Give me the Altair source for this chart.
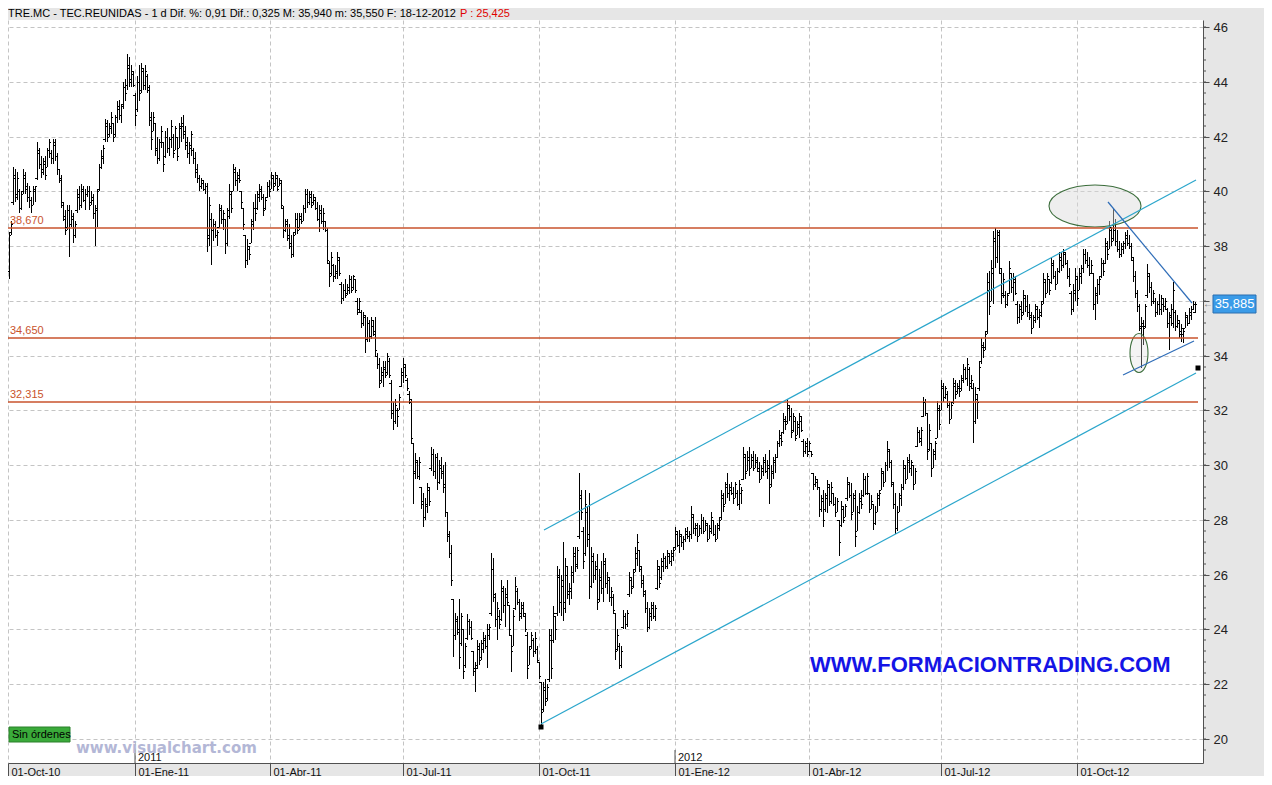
import json
import altair as alt
import pandas as pd
import numpy as np

# ---------------- OHLC daily bars (open, high, low, close) ----------------
q4_2010 = [
(37.1,38.5,36.8,38.4),(38.5,38.9,38.4,38.8),(39.6,40.9,39.5,40.6),(40.5,40.8,39.6,39.8),(39.9,40.7,39.7,40.5),
(40.0,40.1,39.2,39.4),(39.4,40.0,39.3,39.9),(40.0,40.8,39.9,40.6),(40.5,40.7,39.9,40.1),(40.2,40.3,39.6,39.8),
(39.8,40.2,39.4,40.0),(39.7,39.8,39.2,39.5),(39.5,40.2,39.5,40.1),(40.0,40.2,39.6,40.2),(40.5,41.8,40.4,41.5),
(41.4,41.6,40.8,41.0),(41.0,41.3,40.5,40.7),(40.8,41.2,40.6,41.1),(41.0,41.3,40.4,40.6),(40.9,41.6,40.9,41.5),
(41.5,41.9,41.2,41.8),(41.4,41.5,41.0,41.2),(41.2,41.9,41.0,41.8),(41.7,41.9,41.1,41.3),(41.3,41.4,40.6,40.8),
(40.8,40.8,40.3,40.4),(40.5,40.6,39.4,39.6),(39.5,39.6,38.9,39.0),(39.1,39.3,38.4,38.6),(38.7,39.5,38.6,39.3),
(39.3,39.5,37.6,38.8),(38.8,39.3,38.7,39.1),(39.0,39.2,38.1,38.4),(38.4,38.9,38.3,38.8),(39.3,40.1,39.2,39.9),
(39.8,40.2,39.3,39.5),(39.5,40.25,39.4,40.1),(40.0,40.2,39.6,39.7),(39.7,40.1,39.3,39.9),(39.9,40.2,39.8,40.0),
(40.0,40.2,39.3,39.5),(39.6,40.0,39.5,39.8),(39.7,39.9,39.0,39.2),(39.2,39.5,38.0,39.4),(39.3,40.1,38.7,40.0),
(40.1,41.0,40.0,40.9),(40.9,41.5,40.8,41.3),(41.2,41.7,41.0,41.6),(41.9,42.65,41.8,42.5),(42.4,42.6,41.8,42.0),
(42.1,42.5,42.0,42.4),(42.3,42.9,42.1,42.7),(42.5,42.5,41.8,42.0),(42.1,42.8,42.0,42.7),(42.7,43.3,42.5,43.1),
(43.0,43.35,42.6,42.8),(42.8,43.2,42.5,43.1),(43.2,44.0,43.0,43.8),(43.8,44.1,43.3,43.6),(43.9,45.0,43.7,44.6),
(44.5,44.9,43.8,44.0),(44.1,44.6,43.8,44.4),(44.3,44.4,43.8,43.9),(43.5,43.6,42.4,42.8),(43.0,44.2,42.9,44.0),
(44.0,44.6,43.3,43.6),
]
q1_2011 = [
(43.7,44.7,43.6,44.5),(44.4,44.5,43.7,43.9),(43.9,44.6,43.7,44.4),(44.2,44.3,43.6,43.7),(43.8,43.9,42.4,42.6),
(42.7,42.9,41.5,41.9),(42.2,42.9,42.2,42.7),(42.5,42.5,41.3,41.5),(41.6,42.0,41.0,41.2),(41.2,41.9,41.1,41.8),
(41.8,42.4,41.6,42.2),(41.8,41.8,40.7,41.0),(41.3,42.2,41.2,42.0),(42.0,42.3,41.4,41.6),(41.6,42.0,41.3,41.9),
(41.9,42.6,41.6,42.4),(42.0,42.1,41.2,41.4),(41.5,42.4,41.5,42.3),(42.0,42.0,41.1,41.3),(41.6,42.5,41.6,42.4),
(42.3,42.7,41.8,42.5),(42.4,42.8,41.9,42.1),(42.2,42.4,41.5,41.7),(41.8,42.0,41.2,41.4),(41.4,41.8,41.0,41.7),
(41.6,42.2,41.3,42.1),(41.5,41.6,41.0,41.2),(41.2,41.45,40.5,40.7),(40.8,41.0,40.3,40.5),(40.5,40.6,40.0,40.2),
(40.2,40.5,40.1,40.4),(40.3,40.4,40.0,40.1),(40.1,40.3,39.9,40.2),(40.2,40.3,37.8,38.4),(38.3,39.8,38.0,39.5),
(39.0,39.2,37.3,38.6),(38.6,39.0,38.2,38.8),(38.8,38.9,38.3,38.4),(38.4,38.6,38.0,38.5),(38.7,39.55,38.65,39.4),
(39.3,39.5,38.8,39.0),(39.0,39.3,38.6,39.2),(39.0,39.0,37.7,38.1),(38.1,39.4,38.0,39.3),(39.1,40.25,39.0,40.0),
(39.9,40.0,39.2,39.4),(40.0,41.0,40.0,40.8),(40.7,40.9,40.2,40.4),(40.4,40.7,40.0,40.6),(40.5,40.8,40.3,40.4),
(40.0,40.0,39.4,39.6),(39.4,39.4,38.6,38.8),(38.4,38.4,37.2,37.5),(37.5,38.25,37.3,38.0),(37.9,38.0,37.5,37.7),
(38.1,39.0,38.1,38.9),(38.8,39.6,38.6,39.4),(39.4,39.9,38.9,39.2),(39.4,40.0,39.3,39.9),(39.8,40.25,39.6,40.1),
(40.0,40.2,39.7,39.8),(39.8,39.9,39.1,39.3),(39.4,39.8,39.3,39.7),(39.8,40.35,39.75,40.2),
]
q2_2011 = [
(40.2,40.4,39.8,40.0),(40.1,40.7,40.1,40.6),(40.5,40.6,40.0,40.2),(40.3,40.7,40.2,40.6),(40.5,40.6,40.0,40.1),
(40.2,40.5,40.2,40.4),(40.3,40.4,39.4,39.5),(39.4,39.45,38.3,38.6),(38.6,39.0,38.5,38.9),(38.8,39.0,38.2,38.3),
(38.4,38.8,37.9,38.1),(38.0,38.4,37.55,37.7),(37.7,38.5,37.6,38.4),(38.5,39.2,38.4,39.0),(39.0,39.2,38.45,38.6),
(38.7,39.2,38.6,39.1),(39.0,39.2,38.8,38.9),(38.9,39.5,38.9,39.4),(39.4,40.1,39.2,39.9),(39.9,40.1,39.4,39.6),
(39.6,40.0,39.5,39.9),(39.8,40.0,39.4,39.5),(39.6,39.9,39.5,39.8),(39.7,39.8,39.3,39.4),(39.4,39.6,38.9,39.0),
(39.0,39.5,38.5,39.3),(39.2,39.5,38.8,38.9),(38.9,39.4,38.6,39.2),(38.9,38.9,38.5,38.6),(38.6,38.65,37.35,37.5),
(37.4,37.45,36.5,36.9),(37.0,37.8,36.9,37.6),(37.3,37.35,36.7,36.9),(36.9,37.3,36.8,37.1),(37.0,37.8,36.8,37.6),
(37.5,37.6,36.9,37.0),(36.6,36.7,35.9,36.1),(36.1,36.6,36.0,36.4),(36.4,36.8,36.1,36.2),(36.3,36.6,36.2,36.5),
(36.4,36.95,36.25,36.8),(36.8,36.9,36.3,36.4),(36.5,36.95,36.4,36.9),(36.8,36.8,36.3,36.4),(36.0,36.1,35.5,35.6),
(35.7,36.1,35.6,36.0),(35.6,35.65,35.0,35.2),(35.2,35.6,35.1,35.5),(35.4,35.5,34.1,34.6),(34.6,35.4,34.5,35.2),
(35.2,35.3,34.5,34.7),(34.7,35.4,34.6,35.3),(35.1,35.3,34.7,34.8),(34.9,35.4,34.0,34.2),(34.0,34.1,33.5,33.7),
(33.7,33.9,32.8,33.0),(33.1,33.6,33.0,33.4),(33.3,33.8,32.85,33.6),(33.5,33.8,33.2,33.3),(33.4,34.1,33.3,34.0),
(33.8,33.9,33.2,33.3),(33.0,33.1,31.7,31.9),(32.0,32.3,31.3,31.6),(31.6,32.4,31.5,32.2),(32.0,32.1,31.4,31.8),
]
q3_2011 = [
(32.0,32.6,32.0,32.5),(32.9,33.55,32.85,33.4),(33.3,33.9,33.0,33.7),(33.6,33.7,33.2,33.3),(33.1,33.2,32.7,32.8),
(32.6,32.7,32.25,32.4),(32.3,32.4,30.8,31.0),(30.8,30.8,28.6,29.8),(29.7,30.45,29.5,30.2),(30.1,30.2,29.5,29.6),
(29.6,30.3,29.45,30.1),(29.2,29.2,28.4,28.6),(28.7,29.0,27.75,28.1),(28.1,28.8,28.0,28.6),(28.5,29.35,28.25,29.2),
(29.1,29.2,28.5,28.7),(29.9,30.65,29.8,30.4),(30.4,30.6,29.6,29.8),(29.8,30.4,29.5,30.3),(30.3,30.45,29.1,29.4),
(29.4,30.2,29.3,30.0),(29.9,30.3,29.5,29.7),(29.8,30.0,29.0,29.2),(29.3,30.1,28.1,28.3),(28.3,28.3,27.2,27.5),
(27.4,27.6,26.6,26.8),(26.8,27.1,25.6,25.8),(25.1,25.1,23.0,23.8),(23.8,24.6,23.6,24.4),(24.3,24.5,23.8,23.9),
(24.0,25.1,22.55,23.0),(23.5,24.6,23.4,24.5),(24.0,24.0,22.2,22.5),(22.7,23.5,22.6,23.4),(23.7,24.55,23.6,24.3),
(24.3,24.4,23.8,24.1),(24.1,24.3,23.6,23.7),(23.2,23.2,22.3,22.5),(22.6,22.8,21.7,22.7),(22.6,23.6,22.55,23.4),
(23.3,23.5,22.7,22.9),(23.0,23.6,22.9,23.5),(23.3,23.9,23.15,23.7),(23.6,23.8,23.3,23.4),(23.4,24.2,22.6,24.0),
(23.8,24.2,23.6,24.1),(24.6,26.8,24.5,26.2),(26.2,26.6,25.0,25.3),(25.2,25.35,24.1,24.4),(24.4,25.0,23.6,24.8),
(24.5,24.7,24.0,24.2),(24.4,25.8,24.3,25.5),(25.4,25.6,24.6,24.9),(24.9,25.5,24.1,25.3),(25.2,25.8,24.9,25.0),
(24.9,24.9,23.75,24.0),(23.8,23.8,22.45,23.2),(23.4,24.7,23.4,24.5),(24.8,25.9,24.7,25.6),(25.4,25.5,24.9,25.0),
(25.0,25.1,24.3,24.6),(24.5,25.0,24.4,24.9),(24.8,25.0,24.5,24.6),(24.5,24.6,23.9,24.0),(23.8,23.9,22.2,22.6),
(22.7,23.4,22.7,23.3),
]
q4_2011 = [
(23.4,23.9,23.3,23.8),(23.6,23.7,23.0,23.2),(23.2,23.9,23.1,23.7),(23.3,23.4,22.8,22.9),(22.8,22.8,22.2,22.3),
(22.1,22.1,20.45,21.0),(21.1,22.1,21.0,21.9),(21.8,22.2,21.2,21.4),(21.5,22.0,21.4,21.9),(22.2,24.0,22.1,23.8),
(23.6,24.0,22.2,22.6),(23.6,24.85,23.5,24.6),(24.5,24.5,23.6,24.0),(24.6,26.3,24.5,26.0),(25.9,26.2,24.6,25.0),
(25.0,26.0,24.5,25.8),(25.6,27.2,24.3,24.8),(25.0,26.6,24.6,26.3),(26.0,26.3,25.1,25.4),(25.3,25.7,24.9,25.5),
(25.4,26.3,25.1,26.1),(26.0,27.0,25.7,26.8),(26.7,27.0,26.1,26.3),(26.4,27.0,26.2,26.9),(27.4,29.7,27.3,28.9),
(28.8,29.1,28.0,28.3),(27.6,27.75,26.2,26.5),(26.8,29.1,26.7,28.6),(28.3,28.5,27.0,27.3),(27.5,29.0,25.1,25.6),
(25.6,27.0,25.5,26.7),(26.5,26.8,25.7,26.0),(26.0,26.5,25.8,26.3),(26.2,26.75,24.7,25.0),(25.1,26.2,25.0,25.9),
(25.8,26.5,25.3,25.5),(25.5,26.8,25.0,26.5),(26.4,26.6,25.5,25.7),(25.7,26.1,25.3,25.9),(25.8,25.9,25.0,25.2),
(25.2,25.55,24.85,25.4),(25.2,25.3,24.6,24.7),(24.6,24.6,22.9,23.2),(23.3,24.0,23.2,23.8),(23.4,23.5,22.55,22.7),
(22.7,23.4,22.6,23.2),(24.1,24.7,24.0,24.5),(24.5,24.6,24.0,24.2),(24.2,24.7,24.1,24.6),(25.3,26.1,25.2,25.9),
(25.8,25.9,25.3,25.5),(25.6,26.2,25.5,26.1),(26.2,27.0,26.1,26.8),(26.6,27.5,26.3,27.2),(26.9,26.9,26.1,26.3),
(26.2,26.3,25.5,25.7),(25.8,26.0,25.2,25.4),(25.3,25.45,24.6,24.8),(24.8,25.0,23.9,24.1),(24.1,24.8,24.0,24.6),
(24.5,25.0,24.3,24.9),(24.8,25.0,24.4,24.5),(24.5,24.9,24.3,24.8),(25.5,26.55,25.45,26.3),(26.2,26.3,25.5,25.7),
]
q1_2012 = [
(25.9,26.6,25.8,26.5),(26.3,26.8,26.1,26.6),(26.6,26.7,26.2,26.3),(26.3,26.9,26.2,26.8),(26.7,26.8,26.4,26.5),
(26.5,26.9,26.3,26.8),(26.7,27.0,26.5,26.9),(27.0,27.75,26.9,27.6),(27.5,27.6,27.0,27.1),(27.1,27.65,26.8,27.5),
(27.4,27.5,27.0,27.2),(27.2,27.4,26.9,27.3),(27.3,27.7,27.2,27.6),(27.5,27.75,27.3,27.4),(27.4,27.6,27.2,27.5),
(27.5,28.5,27.3,28.2),(28.1,28.2,27.5,27.7),(27.7,27.9,27.4,27.8),(27.7,27.9,27.2,27.4),(27.4,27.8,27.4,27.7),
(27.7,28.2,27.5,28.0),(28.0,28.1,27.5,27.6),(27.6,28.0,27.6,27.9),(27.8,27.9,27.2,27.3),(27.3,27.8,27.3,27.7),
(27.6,28.3,27.5,28.1),(28.0,28.0,27.4,27.5),(27.5,27.8,27.2,27.3),(27.3,27.9,27.3,27.8),(27.7,28.1,27.6,28.0),
(28.1,29.1,28.0,28.9),(28.8,29.0,28.3,28.5),(28.6,29.4,28.6,29.3),(29.2,29.7,28.8,29.0),(29.0,29.3,28.7,29.2),
(29.1,29.4,28.9,29.0),(29.0,29.2,28.6,28.8),(28.8,29.4,28.8,29.3),(29.0,29.1,28.5,28.6),(28.6,29.45,28.35,29.3),
(29.0,29.2,28.6,29.1),(29.5,30.65,29.45,30.4),(30.3,30.4,29.5,29.7),(29.8,30.5,29.8,30.3),(30.2,30.65,29.6,29.9),
(29.9,30.4,29.9,30.3),(30.2,30.5,29.8,29.9),(29.9,30.4,29.9,30.2),(30.1,30.3,29.8,29.9),(29.8,30.1,29.35,29.5),
(29.5,30.0,29.5,29.9),(29.8,30.3,29.6,30.2),(30.1,30.4,29.7,29.8),(29.8,30.2,29.5,30.0),(29.9,30.55,28.6,29.2),
(29.3,30.0,29.2,29.8),(29.7,30.3,29.5,30.2),(30.1,30.4,29.7,30.3),(30.3,30.9,30.25,30.8),(30.8,31.3,30.65,31.1),
(31.0,31.2,30.7,30.9),(31.2,31.9,31.15,31.7),(31.6,31.8,31.3,31.5),(31.6,32.4,31.5,32.2),(32.1,32.2,31.6,31.8),
]
q2_2012 = [
(31.8,32.1,31.0,31.2),(31.3,31.9,31.2,31.8),(31.6,31.75,30.9,31.0),(31.1,31.6,31.1,31.5),(31.4,31.9,31.0,31.8),
(31.6,31.8,31.2,31.3),(30.9,30.95,30.3,30.5),(30.5,30.9,30.4,30.8),(30.7,31.0,30.3,30.4),(30.5,30.9,30.5,30.8),
(30.5,30.5,30.3,30.4),(29.7,29.7,29.1,29.3),(29.3,29.6,29.2,29.5),(29.4,29.5,29.1,29.2),(29.2,29.2,28.1,28.4),
(28.4,28.9,28.3,28.8),(28.7,29.1,27.75,28.0),(28.4,29.0,28.3,28.9),(28.8,29.45,28.25,29.3),(29.2,29.3,28.5,28.7),
(28.7,29.4,28.6,29.2),(29.0,29.0,28.5,28.6),(28.6,28.85,28.1,28.3),(28.3,28.8,28.3,28.7),(28.0,28.0,26.7,27.2),
(27.8,28.7,27.75,28.5),(28.4,28.5,27.9,28.0),(28.1,28.6,28.1,28.5),(28.8,29.55,28.7,29.4),(29.3,29.4,28.8,28.9),
(28.9,29.35,28.0,28.2),(28.3,29.0,28.3,28.9),(28.8,29.1,27.0,27.4),(27.6,28.5,27.6,28.3),(28.3,29.0,28.2,28.8),
(28.7,29.1,28.4,28.6),(28.9,29.7,28.85,29.5),(29.5,29.6,28.9,29.0),(29.0,29.7,28.9,29.6),(29.0,29.0,28.25,28.4),
(28.4,28.9,28.4,28.7),(28.6,28.6,27.65,27.9),(27.9,28.5,27.8,28.3),(28.3,29.0,28.3,28.9),(28.8,29.1,28.5,29.0),
(29.1,29.9,29.1,29.8),(29.7,29.8,29.2,29.4),(29.4,30.1,29.4,30.0),(30.0,30.9,29.8,30.6),(30.5,30.6,29.9,30.1),
(30.1,30.2,29.2,29.4),(29.3,29.4,28.4,28.6),(28.6,29.0,27.5,27.7),(27.7,28.5,27.6,28.3),(28.3,29.0,28.3,28.9),
(28.8,29.3,28.5,29.2),(29.2,30.2,29.1,30.0),(29.9,30.0,29.3,29.5),(29.5,30.3,29.5,30.2),(30.1,30.4,29.7,29.9),
(29.9,30.2,29.6,30.1),(30.0,30.0,29.1,29.3),(29.3,29.9,29.3,29.8),(30.7,31.4,30.65,31.2),(31.2,31.3,30.8,31.0),
]
q3_2012 = [
(30.9,31.4,30.7,31.3),(31.8,32.5,31.75,32.3),(32.3,32.4,31.8,31.9),(31.9,31.9,30.2,30.5),(30.6,31.5,30.5,31.3),
(30.8,30.8,29.55,29.9),(29.9,30.6,29.9,30.5),(30.4,30.9,30.2,30.8),(31.0,32.35,31.0,32.1),(32.0,32.2,31.3,31.5),
(32.0,33.1,32.0,32.9),(32.8,33.0,32.3,32.5),(32.5,32.9,32.4,32.8),(32.6,32.7,32.1,32.2),(32.2,32.35,31.5,31.7),
(31.7,32.3,31.7,32.2),(32.3,33.2,32.25,33.0),(32.9,33.1,32.4,32.6),(32.7,33.0,32.6,32.9),(32.8,33.1,32.5,32.7),
(32.8,33.3,32.7,33.2),(33.1,33.7,33.0,33.5),(33.5,33.6,33.1,33.2),(33.2,33.9,32.9,33.7),(33.5,33.6,32.7,32.9),
(33.0,33.3,32.8,33.1),(32.8,33.0,30.8,31.6),(31.6,32.85,31.5,32.6),(32.4,32.6,31.7,32.3),(32.8,33.8,32.7,33.6),
(33.8,34.65,33.7,34.4),(34.3,34.5,33.9,34.2),(34.3,34.9,34.2,34.8),(34.9,37.0,34.8,36.7),(36.4,37.1,35.5,35.8),
(36.0,37.5,36.0,37.2),(37.0,38.55,35.9,38.3),(38.2,38.65,37.2,37.6),(37.6,38.6,37.4,38.4),(38.5,38.6,37.0,37.2),
(37.0,37.2,35.9,36.2),(36.3,37.0,36.1,36.8),(36.2,36.35,35.75,35.9),(35.9,36.3,35.8,36.2),(36.3,37.45,36.25,37.2),
(37.0,37.0,36.3,36.5),(36.5,37.0,36.0,36.8),(36.7,36.9,36.2,36.3),(35.9,36.0,35.15,35.4),(35.4,35.9,35.2,35.8),
(35.7,36.0,35.3,35.5),(35.6,36.4,35.5,36.2),(36.1,36.2,35.6,35.8),(35.8,36.2,35.4,35.6),(35.6,35.9,35.3,35.5),
(35.4,35.6,34.8,35.0),(35.0,35.5,35.0,35.4),(35.3,35.9,35.2,35.8),(35.7,35.8,35.3,35.4),(35.4,35.7,35.0,35.6),
(35.5,36.0,35.4,35.9),(36.0,37.0,35.9,36.8),(36.7,36.8,36.1,36.3),(36.3,37.0,36.3,36.9),(36.8,36.8,36.2,36.4),
]
q4_2012 = [
(36.7,37.55,36.6,37.4),(37.3,37.5,36.8,36.9),(36.9,37.1,36.4,36.6),(36.6,37.2,36.6,37.1),(37.1,37.8,37.0,37.6),
(37.5,37.8,37.1,37.3),(37.3,37.9,37.2,37.8),(37.7,37.8,37.3,37.4),(37.4,37.5,36.8,36.9),(36.9,37.2,36.5,36.6),
(36.3,36.35,35.5,35.7),(35.7,36.6,35.6,36.4),(36.3,37.2,36.0,36.9),(36.8,36.9,35.8,36.1),(36.4,37.2,36.4,37.0),
(36.9,37.3,36.6,37.2),(37.2,37.9,37.0,37.7),(37.7,37.9,37.35,37.5),(37.5,37.8,37.2,37.3),(37.3,37.6,36.9,37.0),
(37.0,37.5,37.0,37.3),(37.0,37.0,35.65,35.9),(35.9,36.5,35.3,36.3),(36.2,36.8,35.9,36.6),(36.6,36.9,36.2,36.8),
(36.9,37.55,36.85,37.4),(37.4,37.5,36.9,37.1),(37.4,38.3,37.35,38.1),(38.0,38.2,37.5,37.7),(37.9,38.9,37.9,38.7),
(38.6,38.7,38.0,38.2),(38.3,39.35,38.2,38.6),(38.6,39.0,38.0,38.2),(38.2,38.6,37.8,37.9),(37.9,38.2,37.55,37.7),
(37.7,38.1,37.6,38.0),(37.9,38.2,37.7,38.1),(38.1,38.5,37.9,38.4),(38.3,38.6,38.0,38.1),(38.1,38.4,37.9,38.0),
(38.0,38.1,37.5,37.6),(37.5,37.6,36.7,36.9),(36.9,37.1,36.1,36.3),(36.3,36.4,35.6,35.8),(35.8,35.9,34.9,35.1),
(35.0,35.4,33.55,35.2),(35.1,35.3,34.4,35.0),(35.1,35.9,35.0,35.8),(36.2,37.35,36.1,37.0),(36.9,37.0,36.3,36.5),
(36.5,36.7,35.8,36.0),(36.0,36.4,35.9,36.3),(36.0,36.1,35.4,35.6),(35.6,36.0,35.5,35.9),(35.9,36.25,35.5,35.7),
(35.7,36.2,35.5,36.1),(35.9,36.1,35.6,35.8),(35.8,36.1,35.7,36.0),(35.7,35.75,35.0,35.2),(35.2,35.6,34.2,35.5),
(35.4,35.9,35.1,35.7),(35.2,36.7,35.0,36.4),(35.6,35.65,34.9,35.1),(35.1,35.5,35.0,35.3),(35.2,35.3,34.65,34.8),
(34.9,35.15,34.5,35.0),(34.8,35.0,34.45,34.9),(35.0,35.6,35.0,35.5),(35.4,35.5,35.1,35.2),(35.2,35.75,35.15,35.6),
(35.5,35.8,35.3,35.7),(35.7,36.0,35.65,35.9),(35.6,35.94,35.55,35.885),
]

# quarter tick positions (bar index) and their labels
tick_pos = [-0.5, 63, 130.5, 197, 265, 333, 400, 466, 534]
tick_labels = ["01-Oct-10", "01-Ene-11", "01-Abr-11", "01-Jul-11", "01-Oct-11",
               "01-Ene-12", "01-Abr-12", "01-Jul-12", "01-Oct-12"]
year_pos = [63, 333]
year_labels = ["2011", "2012"]

# horizontal support / resistance levels (drawn from first to last bar index)
levels = [38.670, 34.650, 32.315]
level_labels = ["38,670", "34,650", "32,315"]
level_from = [-0.5, -0.5, -0.5]
level_to = [594.5, 594.5, 594.5]
level_text_at = [0.5, 0.5, 0.5]

# trend lines: start index, start price, end index, end price
line_k1 = [267.5, 266.0, 549.5, 557.0]
line_p1 = [27.64, 20.55, 39.6, 33.31]
line_k2 = [593.5, 593.5, 591.5, 592.5]
line_p2 = [40.4, 33.38, 35.93, 34.55]
line_kind = ["canal", "canal", "triangulo", "triangulo"]

marker_k = [266, 594.5]
marker_p = [20.45, 33.53]

ellipse_k = [543.0, 565.0]
ellipse_p = [39.45, 34.09]

last_price = 35.885
last_label = "35,885"

# ---------------------------------------------------------------------------------------------
rows = [b for seg in (q4_2010, q1_2011, q2_2011, q3_2011, q4_2011, q1_2012, q2_2012, q3_2012, q4_2012) for b in seg]
df = pd.DataFrame(rows, columns=["o", "h", "l", "c"])
df["k"] = np.arange(len(df))

W, H = 1195, 743
FONT = "Liberation Sans, Arial, sans-serif"

xs = alt.Scale(domain=[-0.5, 597.0], nice=False, zero=False, round=True)
ys = alt.Scale(domain=[19.124, 46.256], nice=False, zero=False, round=True)

label_expr = f"{json.dumps(tick_labels)}[indexof({json.dumps(tick_pos)}, datum.value)]"

xaxis = alt.Axis(values=tick_pos, labelExpr=label_expr, orient="bottom", title=None,
                 grid=True, gridDash=[4, 3], gridColor="#c4c4c4", gridWidth=1,
                 tickSize=13, tickColor="#505050", domainColor="#505050",
                 labelAlign="left", labelBaseline="top", labelPadding=-10, labelOffset=3,
                 labelFont=FONT, labelFontSize=11, labelColor="#111", labelFlush=False,
                 labelOverlap=False, labelBound=False)
yaxis = alt.Axis(values=list(range(20, 47, 2)), orient="right", title=None, format="d",
                 grid=True, gridDash=[4, 3], gridColor="#c4c4c4", gridWidth=1,
                 tickSize=6, tickColor="#505050", domainColor="#505050",
                 labelPadding=4, labelFont=FONT, labelFontSize=13, labelColor="#222",
                 labelOverlap=False)


def X(f):
    return alt.X(f, scale=xs, axis=None)


def Y(f):
    return alt.Y(f, scale=ys, axis=None)


base = alt.Chart(df)

bars = base.mark_rule(color="black", strokeWidth=1, xOffset=0.5).encode(
    x=alt.X("k:Q", scale=xs, axis=xaxis),
    y=alt.Y("l:Q", scale=ys, axis=yaxis),
    y2="h:Q",
)
opens = base.transform_calculate(k0="datum.k - 0.9").mark_rule(
    color="black", strokeWidth=1, yOffset=0.5).encode(x=X("k0:Q"), x2="k:Q", y=Y("o:Q"))
closes = base.transform_calculate(k1="datum.k + 0.9").mark_rule(
    color="black", strokeWidth=1, yOffset=0.5, xOffset=1).encode(x=X("k:Q"), x2="k1:Q", y=Y("c:Q"))

# minor ticks of the right axis
minor = alt.Chart(pd.DataFrame({"v": np.round(np.arange(19.6, 46.3, 0.4), 2)})).transform_filter(
    "datum.v >= 19.2 && datum.v <= 46.2").mark_rule(color="#505050").encode(
    y=Y("v:Q"), x=alt.value(W), x2=alt.value(W + 3))

# support levels
lev_df = pd.DataFrame({"p": levels, "t": level_labels, "a": level_from, "b": level_to,
                       "tx": level_text_at})
lev_lines = alt.Chart(lev_df).mark_rule(color="#c9532c", strokeWidth=1.3).encode(
    y=Y("p:Q"), x=X("a:Q"), x2="b:Q")
lev_text = alt.Chart(lev_df).mark_text(color="#c9532c", font=FONT, fontSize=11, align="left",
                                       baseline="bottom", dy=-2).encode(
    y=Y("p:Q"), x=X("tx:Q"), text="t:N")

# trend lines
tl_df = pd.DataFrame({"k1": line_k1, "p1": line_p1, "k2": line_k2, "p2": line_p2, "kind": line_kind})
trend = alt.Chart(tl_df).mark_rule(strokeWidth=1.2).encode(
    x=X("k1:Q"), x2="k2:Q", y=Y("p1:Q"), y2="p2:Q",
    color=alt.Color("kind:N", scale=alt.Scale(domain=["canal", "triangulo"],
                                              range=["#2ba6cc", "#2f6db8"]), legend=None))

markers = alt.Chart(pd.DataFrame({"k": marker_k, "p": marker_p})).mark_square(
    size=25, color="black", opacity=1).encode(x=X("k:Q"), y=Y("p:Q"))


def ellipse_path(rx, ry):
    c = 0.5523
    return (f"M {-rx} 0 C {-rx} {-c*ry} {-c*rx} {-ry} 0 {-ry} "
            f"C {c*rx} {-ry} {rx} {-c*ry} {rx} 0 "
            f"C {rx} {c*ry} {c*rx} {ry} 0 {ry} "
            f"C {-c*rx} {ry} {-rx} {c*ry} {-rx} 0 Z")


ell1 = alt.Chart(pd.DataFrame({"k": [ellipse_k[0]], "p": [ellipse_p[0]]})).mark_point(
    shape=ellipse_path(1, 42 / 92), size=92 * 92, filled=False, fill="#dadada", fillOpacity=0.45,
    stroke="#3c6e3c", strokeWidth=1.1, opacity=1).encode(x=X("k:Q"), y=Y("p:Q"))
ell2 = alt.Chart(pd.DataFrame({"k": [ellipse_k[1]], "p": [ellipse_p[1]]})).mark_point(
    shape=ellipse_path(18 / 39, 1), size=39 * 39, filled=False, fill="#dadada", fillOpacity=0.3,
    stroke="#3c6e3c", strokeWidth=1.1, opacity=1).encode(x=X("k:Q"), y=Y("p:Q"))

# year markers above the time axis
yr_df = pd.DataFrame({"k": year_pos, "t": year_labels})
yr_ticks = alt.Chart(yr_df).mark_rule(color="#505050").encode(
    x=X("k:Q"), y=alt.value(H - 13), y2=alt.value(H))
yr_text = alt.Chart(yr_df).mark_text(font=FONT, fontSize=11, color="#111", align="left",
                                     baseline="bottom", dx=3).encode(
    x=X("k:Q"), y=alt.value(H), text="t:N")

# last price box on the right axis
lp_df = pd.DataFrame({"p": [last_price], "t": [last_label], "top": [last_price + 0.33],
                      "bot": [last_price - 0.33]})
lp_box = alt.Chart(lp_df).mark_rect(fill="#3a9be8", stroke="#2a6fb0", strokeWidth=1).encode(
    x=alt.value(W + 10), x2=alt.value(W + 53), y=Y("top:Q"), y2="bot:Q")
lp_text = alt.Chart(lp_df).mark_text(color="white", font=FONT, fontSize=13, align="center",
                                     baseline="middle").encode(
    x=alt.value(W + 31.5), y=Y("p:Q"), text="t:N")
lp_arrow = alt.Chart(lp_df).mark_text(color="#777", font=FONT, fontSize=10, align="center",
                                      baseline="middle", text="←").encode(
    x=alt.value(W + 5), y=Y("p:Q"))

one = pd.DataFrame({"a": [0]})
title_black = alt.Chart(one).mark_text(
    text="TRE.MC - TEC.REUNIDAS - 1 d Dif. %: 0,91 Dif.: 0,325 M: 35,940 m: 35,550 F: 18-12-2012",
    font=FONT, fontSize=11, color="#000", align="left", baseline="middle").encode(
    x=alt.value(0), y=alt.value(-6))
title_red = alt.Chart(one).mark_text(
    text="P : 25,425", font=FONT, fontSize=11, color="#e00000", align="left",
    baseline="middle").encode(x=alt.value(452), y=alt.value(-6))

sin_box = alt.Chart(one).mark_rect(fill="#3aaa3a", stroke="#2a802a").encode(
    x=alt.value(1), x2=alt.value(62), y=alt.value(707), y2=alt.value(722))
sin_text = alt.Chart(one).mark_text(text="Sin órdenes", font=FONT, fontSize=11, color="#000",
                                    align="left", baseline="middle").encode(
    x=alt.value(4), y=alt.value(715))
watermark = alt.Chart(one).mark_text(text="www.visualchart.com", font="DejaVu Sans, Verdana, sans-serif",
                                     fontSize=15, fontWeight="bold", color="#b3b7d6",
                                     align="left", baseline="alphabetic").encode(
    x=alt.value(68), y=alt.value(733))
site = alt.Chart(one).mark_text(text="WWW.FORMACIONTRADING.COM", font=FONT, fontSize=22,
                                fontWeight="bold", color="#1414e6", align="left",
                                baseline="alphabetic").encode(
    x=alt.value(802), y=alt.value(652))

chart = alt.layer(
    bars, ell1, ell2, lev_lines, lev_text, opens, closes, trend, markers, minor,
    yr_ticks, yr_text, lp_box, lp_text, lp_arrow, title_black, title_red,
    sin_box, sin_text, watermark, site,
).resolve_axis(x="independent", y="independent").properties(
    width=W, height=H, background="#e6e6e6",
    padding={"left": 0, "top": 12, "right": 61, "bottom": 13},
    autosize=alt.AutoSizeParams(type="none"),
).configure_view(stroke=None, fill="white")

chart.save("out.html", embed_options={"renderer": "svg", "actions": False})
